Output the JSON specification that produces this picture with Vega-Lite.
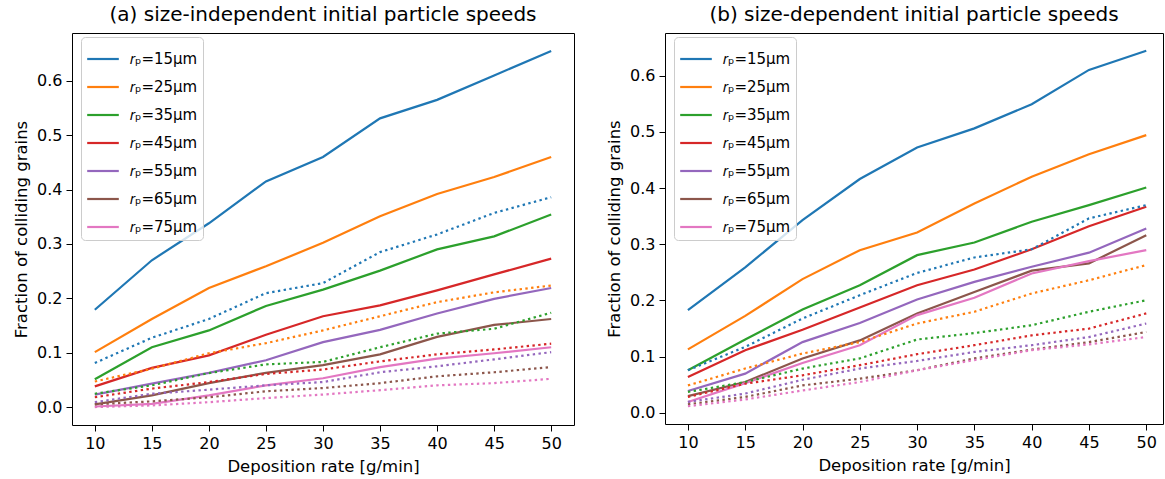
{
  "$schema": "https://vega.github.io/schema/vega-lite/v6.json",
  "padding": {"left": 13, "top": 4, "right": 0, "bottom": 2},
  "spacing": 31,
  "datasets": {
    "aSolid": [
      {"x": 10, "r15": 0.179, "r25": 0.101, "r35": 0.051, "r45": 0.038, "r55": 0.023, "r65": 0.005, "r75": 0.001},
      {"x": 15, "r15": 0.270, "r25": 0.162, "r35": 0.110, "r45": 0.072, "r55": 0.043, "r65": 0.0215, "r75": 0.006},
      {"x": 20, "r15": 0.338, "r25": 0.219, "r35": 0.141, "r45": 0.095, "r55": 0.063, "r65": 0.044, "r75": 0.0215},
      {"x": 25, "r15": 0.415, "r25": 0.259, "r35": 0.186, "r45": 0.133, "r55": 0.086, "r65": 0.063, "r75": 0.040},
      {"x": 30, "r15": 0.460, "r25": 0.302, "r35": 0.216, "r45": 0.167, "r55": 0.1195, "r65": 0.077, "r75": 0.053},
      {"x": 35, "r15": 0.531, "r25": 0.351, "r35": 0.251, "r45": 0.187, "r55": 0.142, "r65": 0.097, "r75": 0.0735},
      {"x": 40, "r15": 0.565, "r25": 0.392, "r35": 0.290, "r45": 0.2145, "r55": 0.172, "r65": 0.129, "r75": 0.089},
      {"x": 45, "r15": 0.610, "r25": 0.423, "r35": 0.314, "r45": 0.244, "r55": 0.199, "r65": 0.151, "r75": 0.099},
      {"x": 50, "r15": 0.655, "r25": 0.460, "r35": 0.354, "r45": 0.273, "r55": 0.219, "r65": 0.162, "r75": 0.110}
    ],
    "aDot": [
      {"x": 10, "r15": 0.081, "r25": 0.047, "r35": 0.0245, "r45": 0.018, "r55": 0.009, "r65": 0.005, "r75": 0.000},
      {"x": 15, "r15": 0.1275, "r25": 0.0705, "r35": 0.040, "r45": 0.034, "r55": 0.0245, "r65": 0.0105, "r75": 0.003},
      {"x": 20, "r15": 0.162, "r25": 0.099, "r35": 0.0625, "r45": 0.046, "r55": 0.032, "r65": 0.018, "r75": 0.009},
      {"x": 25, "r15": 0.2095, "r25": 0.1175, "r35": 0.0785, "r45": 0.061, "r55": 0.040, "r65": 0.029, "r75": 0.0165},
      {"x": 30, "r15": 0.228, "r25": 0.141, "r35": 0.083, "r45": 0.069, "r55": 0.046, "r65": 0.035, "r75": 0.023},
      {"x": 35, "r15": 0.285, "r25": 0.167, "r35": 0.110, "r45": 0.084, "r55": 0.064, "r65": 0.044, "r75": 0.031},
      {"x": 40, "r15": 0.3175, "r25": 0.193, "r35": 0.135, "r45": 0.097, "r55": 0.075, "r65": 0.0565, "r75": 0.040},
      {"x": 45, "r15": 0.357, "r25": 0.211, "r35": 0.144, "r45": 0.106, "r55": 0.0877, "r65": 0.064, "r75": 0.044},
      {"x": 50, "r15": 0.386, "r25": 0.2235, "r35": 0.1735, "r45": 0.1165, "r55": 0.101, "r65": 0.0735, "r75": 0.052}
    ],
    "bSolid": [
      {"x": 10, "r15": 0.183, "r25": 0.113, "r35": 0.076, "r45": 0.064, "r55": 0.039, "r65": 0.030, "r75": 0.0196},
      {"x": 15, "r15": 0.259, "r25": 0.1726, "r35": 0.1306, "r45": 0.1116, "r55": 0.070, "r65": 0.055, "r75": 0.053},
      {"x": 20, "r15": 0.343, "r25": 0.238, "r35": 0.184, "r45": 0.148, "r55": 0.126, "r65": 0.097, "r75": 0.089},
      {"x": 25, "r15": 0.416, "r25": 0.2895, "r35": 0.227, "r45": 0.1875, "r55": 0.160, "r65": 0.129, "r75": 0.1205},
      {"x": 30, "r15": 0.472, "r25": 0.321, "r35": 0.2806, "r45": 0.227, "r55": 0.2017, "r65": 0.177, "r75": 0.174},
      {"x": 35, "r15": 0.506, "r25": 0.3726, "r35": 0.303, "r45": 0.255, "r55": 0.233, "r65": 0.215, "r75": 0.205},
      {"x": 40, "r15": 0.549, "r25": 0.420, "r35": 0.340, "r45": 0.291, "r55": 0.260, "r65": 0.253, "r75": 0.248},
      {"x": 45, "r15": 0.610, "r25": 0.460, "r35": 0.3696, "r45": 0.332, "r55": 0.285, "r65": 0.266, "r75": 0.270},
      {"x": 50, "r15": 0.644, "r25": 0.494, "r35": 0.401, "r45": 0.3666, "r55": 0.328, "r65": 0.316, "r75": 0.2895}
    ],
    "bDot": [
      {"x": 10, "r15": 0.076, "r25": 0.049, "r35": 0.0374, "r45": 0.0285, "r55": 0.0196, "r65": 0.0155, "r75": 0.012},
      {"x": 15, "r15": 0.1175, "r25": 0.079, "r35": 0.055, "r45": 0.052, "r55": 0.0345, "r65": 0.0285, "r75": 0.024},
      {"x": 20, "r15": 0.168, "r25": 0.1057, "r35": 0.079, "r45": 0.067, "r55": 0.059, "r65": 0.049, "r75": 0.040},
      {"x": 25, "r15": 0.2094, "r25": 0.126, "r35": 0.097, "r45": 0.085, "r55": 0.079, "r65": 0.061, "r75": 0.055},
      {"x": 30, "r15": 0.249, "r25": 0.159, "r35": 0.1306, "r45": 0.1045, "r55": 0.0925, "r65": 0.076, "r75": 0.076},
      {"x": 35, "r15": 0.2765, "r25": 0.180, "r35": 0.142, "r45": 0.1205, "r55": 0.1085, "r65": 0.097, "r75": 0.094},
      {"x": 40, "r15": 0.291, "r25": 0.2125, "r35": 0.156, "r45": 0.138, "r55": 0.1205, "r65": 0.1128, "r75": 0.1116},
      {"x": 45, "r15": 0.346, "r25": 0.236, "r35": 0.180, "r45": 0.150, "r55": 0.135, "r65": 0.126, "r75": 0.122},
      {"x": 50, "r15": 0.3696, "r25": 0.263, "r35": 0.2005, "r45": 0.177, "r55": 0.159, "r65": 0.144, "r75": 0.135}
    ]
  },
  "hconcat": [
    {
      "width": 502,
      "height": 392,
      "title": {"text": "(a) size-independent initial particle speeds"},
      "layer": [
        {
          "data": {"name": "aSolid"},
          "transform": [{"fold": ["r15", "r25", "r35", "r45", "r55", "r65", "r75"], "as": ["r", "v"]}],
          "mark": {"type": "line", "strokeWidth": 2.2},
          "encoding": {
            "x": {"field": "x", "type": "quantitative", "scale": {"domain": [8, 52], "nice": false, "zero": false}, "axis": {"values": [10, 15, 20, 25, 30, 35, 40, 45, 50], "title": "Deposition rate [g/min]"}},
            "y": {"field": "v", "type": "quantitative", "scale": {"domain": [-0.033, 0.688], "nice": false, "zero": false}, "axis": {"values": [0, 0.1, 0.2, 0.3, 0.4, 0.5, 0.6], "format": ".1f", "title": "Fraction of colliding grains"}},
            "color": {"field": "r", "type": "nominal", "scale": {"domain": ["r15", "r25", "r35", "r45", "r55", "r65", "r75"], "range": ["#1f77b4", "#ff7f0e", "#2ca02c", "#d62728", "#9467bd", "#8c564b", "#e377c2"]}, "legend": {"labelExpr": "'𝑟ₚ=' + slice(datum.label, 1) + 'μm'", "rowPadding": 3}}
          }
        },
        {
          "data": {"name": "aDot"},
          "transform": [{"fold": ["r15", "r25", "r35", "r45", "r55", "r65", "r75"], "as": ["r", "v"]}],
          "mark": {"type": "line", "strokeWidth": 2.2, "strokeDash": [2.4, 3.4]},
          "encoding": {
            "x": {"field": "x", "type": "quantitative"},
            "y": {"field": "v", "type": "quantitative"},
            "color": {"field": "r", "type": "nominal", "legend": null}
          }
        }
      ]
    },
    {
      "width": 498,
      "height": 391,
      "title": {"text": "(b) size-dependent initial particle speeds"},
      "layer": [
        {
          "data": {"name": "bSolid"},
          "transform": [{"fold": ["r15", "r25", "r35", "r45", "r55", "r65", "r75"], "as": ["r", "v"]}],
          "mark": {"type": "line", "strokeWidth": 2.2},
          "encoding": {
            "x": {"field": "x", "type": "quantitative", "scale": {"domain": [8, 51.46], "nice": false, "zero": false}, "axis": {"values": [10, 15, 20, 25, 30, 35, 40, 45, 50], "title": "Deposition rate [g/min]"}},
            "y": {"field": "v", "type": "quantitative", "scale": {"domain": [-0.0196, 0.6756], "nice": false, "zero": false}, "axis": {"values": [0, 0.1, 0.2, 0.3, 0.4, 0.5, 0.6], "format": ".1f", "title": "Fraction of colliding grains"}},
            "color": {"field": "r", "type": "nominal", "scale": {"domain": ["r15", "r25", "r35", "r45", "r55", "r65", "r75"], "range": ["#1f77b4", "#ff7f0e", "#2ca02c", "#d62728", "#9467bd", "#8c564b", "#e377c2"]}, "legend": {"labelExpr": "'𝑟ₚ=' + slice(datum.label, 1) + 'μm'", "rowPadding": 3}}
          }
        },
        {
          "data": {"name": "bDot"},
          "transform": [{"fold": ["r15", "r25", "r35", "r45", "r55", "r65", "r75"], "as": ["r", "v"]}],
          "mark": {"type": "line", "strokeWidth": 2.2, "strokeDash": [2.4, 3.4]},
          "encoding": {
            "x": {"field": "x", "type": "quantitative"},
            "y": {"field": "v", "type": "quantitative"},
            "color": {"field": "r", "type": "nominal", "legend": null}
          }
        }
      ]
    }
  ],
  "resolve": {"scale": {"x": "independent", "y": "independent"}, "legend": {"color": "independent"}},
  "config": {
    "font": "DejaVu Sans",
    "view": {"stroke": "black", "strokeWidth": 1},
    "axis": {"labelFont": "DejaVu Sans", "labelFontSize": 16, "labelColor": "black", "titleFont": "DejaVu Sans", "titleFontSize": 16.5, "titleFontWeight": "normal", "titleColor": "black", "domain": false, "tickColor": "black", "tickSize": 6, "grid": false, "labelPadding": 4, "titlePadding": 7},
    "title": {"font": "DejaVu Sans", "fontSize": 20, "fontWeight": "normal", "color": "black", "offset": 8},
    "legend": {"orient": "none", "legendX": 9, "legendY": 4, "title": null, "fillColor": "rgba(255,255,255,0.8)", "strokeColor": "#cccccc", "cornerRadius": 4, "padding": 5, "symbolType": "stroke", "symbolSize": 1000, "symbolStrokeWidth": 2.2, "labelFont": "DejaVu Sans", "labelFontSize": 15, "labelColor": "black", "labelOffset": 10}
  }
}
